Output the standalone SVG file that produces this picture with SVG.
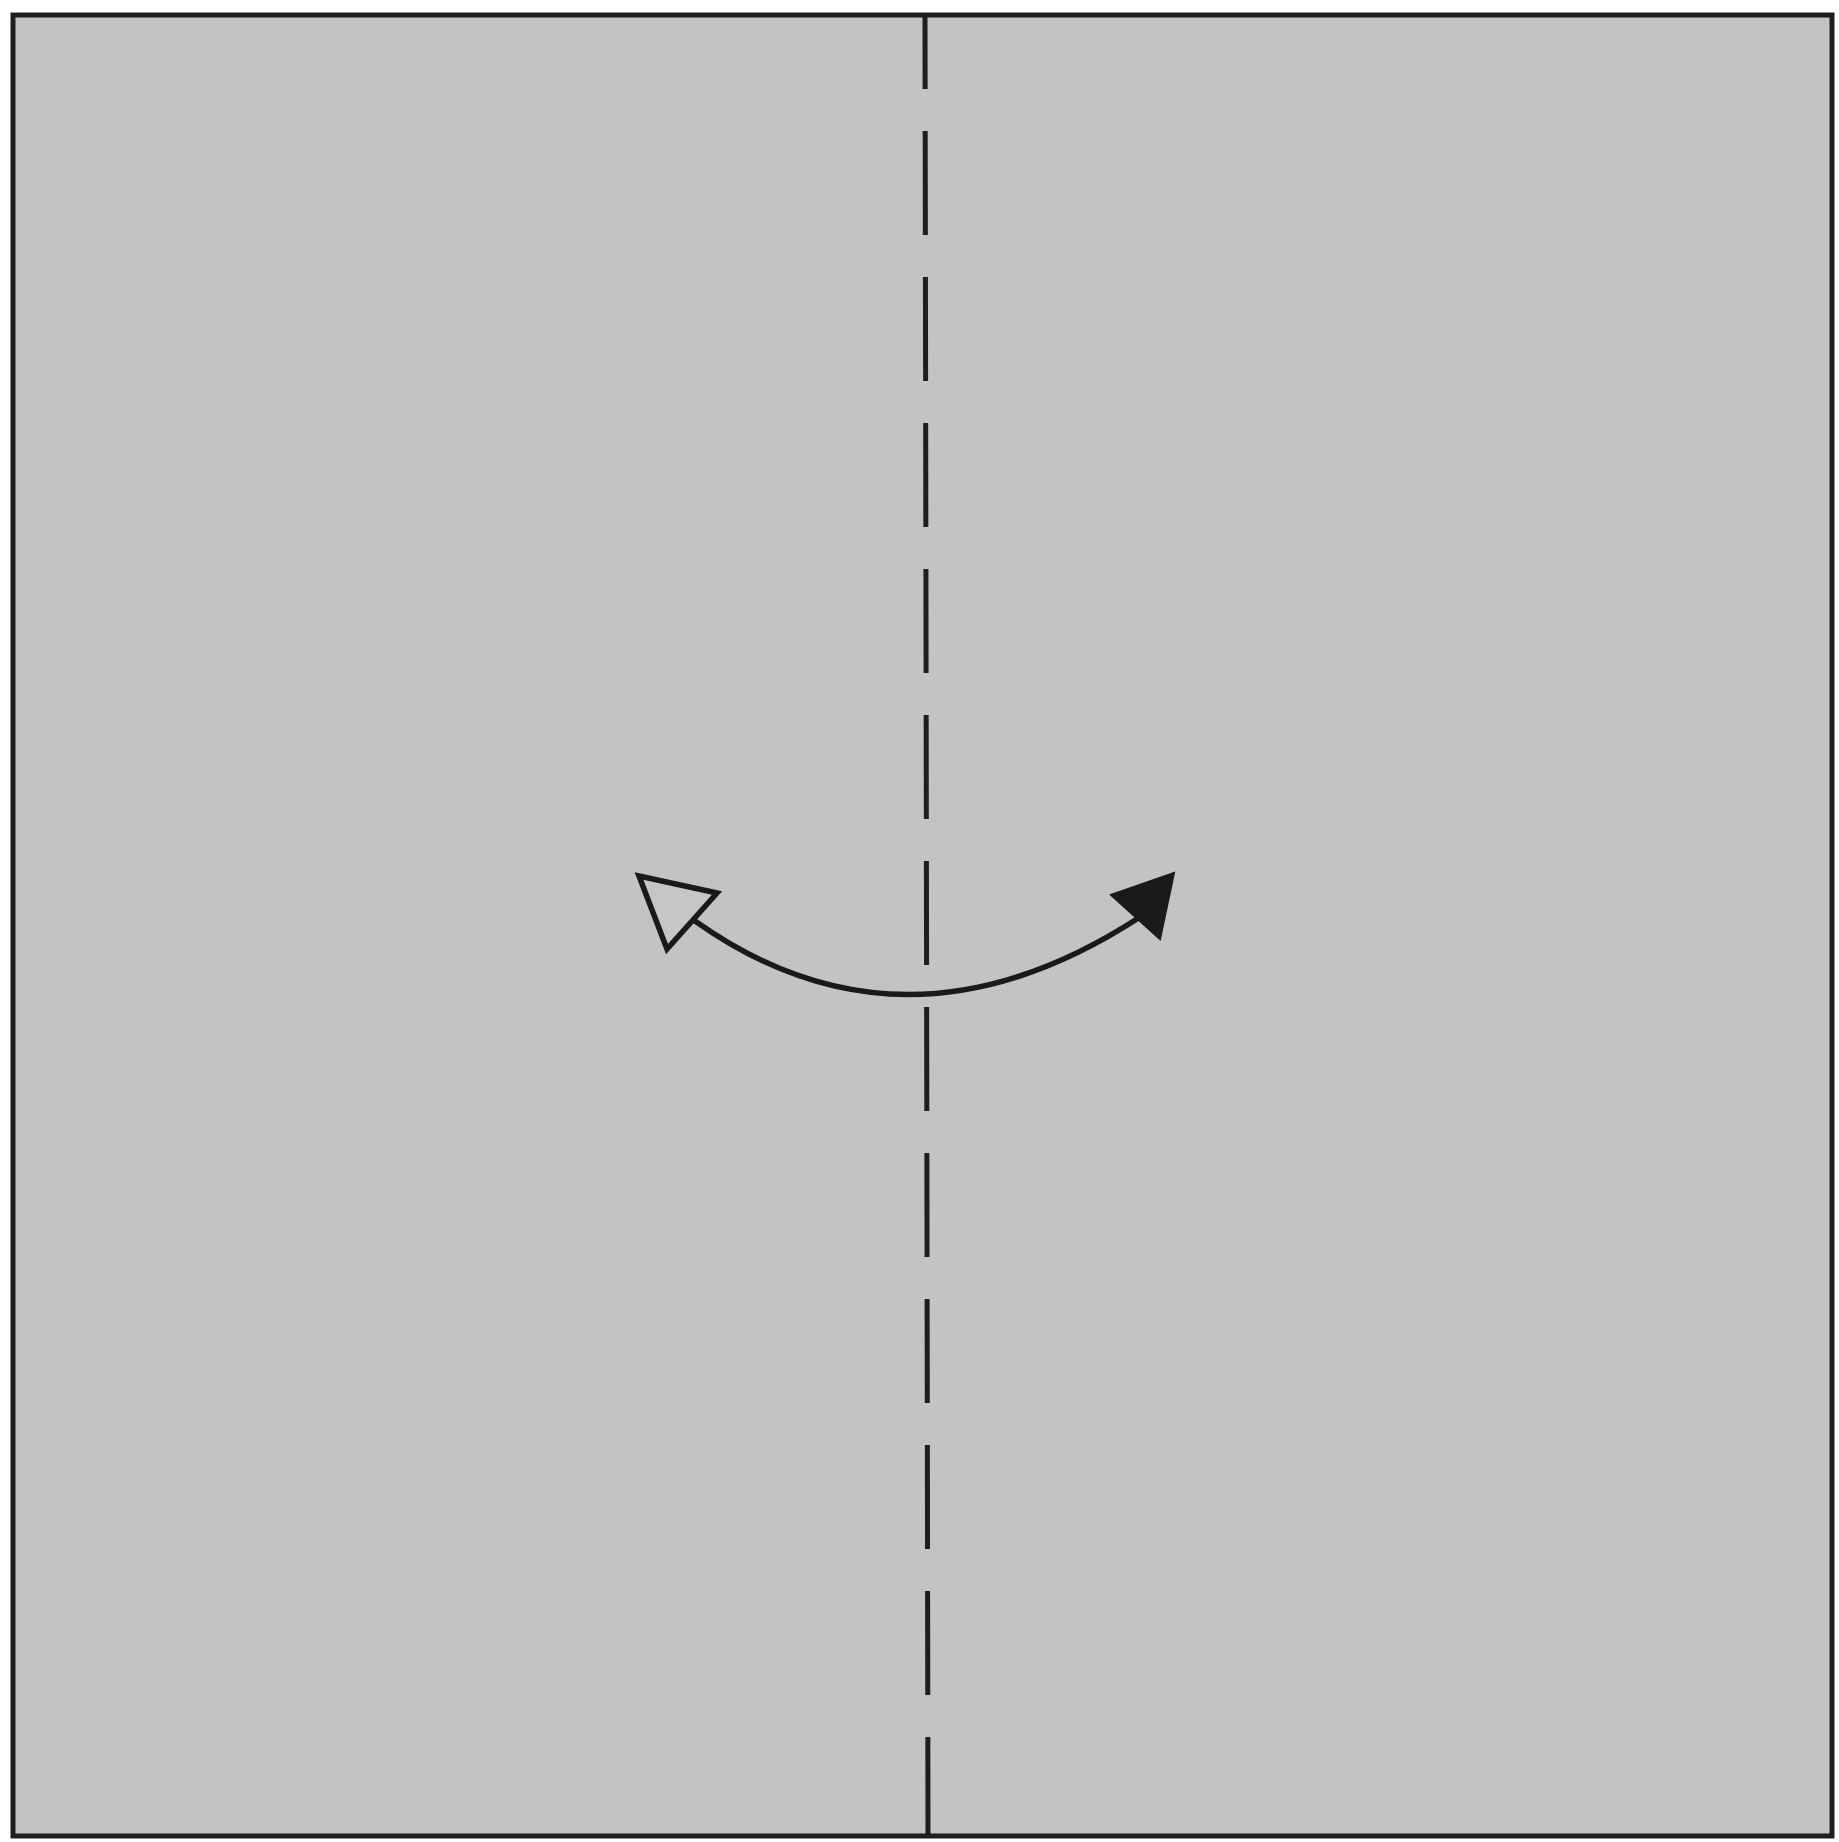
<svg xmlns="http://www.w3.org/2000/svg" width="1839" height="1842" viewBox="0 0 1839 1842">
<style>
.paper{fill:#c3c3c3;stroke:#1e1e1e;stroke-width:5}
.valley{stroke:#1e1e1e;stroke-width:5;stroke-dasharray:104 42;stroke-dashoffset:30;fill:none}
.arc{fill:none;stroke:#1a1a1a;stroke-width:5.5;stroke-linecap:round}
.head-open{fill:#c6c6c6;stroke:#1a1a1a;stroke-width:5.5;stroke-linejoin:miter}
.head-fill{fill:#1a1a1a;stroke:#1a1a1a;stroke-width:2;stroke-linejoin:miter}
</style>
<rect width="1839" height="1842" fill="#ffffff"/>
<g id="paper">
<rect class="paper" x="13" y="15" width="1819" height="1821"/>
</g>
<g id="connectors">
<line class="valley" x1="925" y1="15" x2="928" y2="1836"/>
<path class="arc" d="M695,921 Q905,1070 1140,917"/>
<polygon class="head-open" points="639,876 717,893 667,949"/>
<polygon class="head-fill" points="1174,873 1111,895 1160,939"/>
</g>
</svg>
